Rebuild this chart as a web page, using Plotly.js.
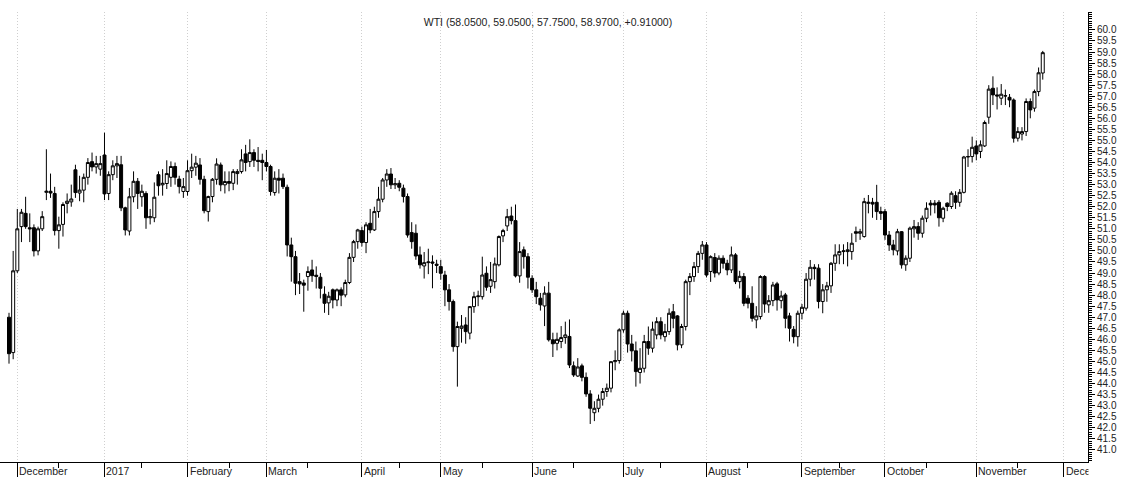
<!DOCTYPE html>
<html><head><meta charset="utf-8">
<script src="https://cdn.plot.ly/plotly-3.0.1.min.js"></script>
<style>html,body{margin:0;padding:0;background:#fff}#chart{width:1132px;height:477px}</style>
</head><body><div id="chart"></div>
<script>
const dates = [
'2016-11-29','2016-11-30',
'2016-12-01','2016-12-02','2016-12-05','2016-12-06','2016-12-07','2016-12-08','2016-12-09','2016-12-12','2016-12-13','2016-12-14','2016-12-15','2016-12-16','2016-12-19','2016-12-20','2016-12-21','2016-12-22','2016-12-23','2016-12-27','2016-12-28','2016-12-29','2016-12-30',
'2017-01-03','2017-01-04','2017-01-05','2017-01-06','2017-01-09','2017-01-10','2017-01-11','2017-01-12','2017-01-13','2017-01-17','2017-01-18','2017-01-19','2017-01-20','2017-01-23','2017-01-24','2017-01-25','2017-01-26','2017-01-27','2017-01-30','2017-01-31',
'2017-02-01','2017-02-02','2017-02-03','2017-02-06','2017-02-07','2017-02-08','2017-02-09','2017-02-10','2017-02-13','2017-02-14','2017-02-15','2017-02-16','2017-02-17','2017-02-21','2017-02-22','2017-02-23','2017-02-24','2017-02-27','2017-02-28',
'2017-03-01','2017-03-02','2017-03-03','2017-03-06','2017-03-07','2017-03-08','2017-03-09','2017-03-10','2017-03-13','2017-03-14','2017-03-15','2017-03-16','2017-03-17','2017-03-20','2017-03-21','2017-03-22','2017-03-23','2017-03-24','2017-03-27','2017-03-28','2017-03-29','2017-03-30','2017-03-31',
'2017-04-03','2017-04-04','2017-04-05','2017-04-06','2017-04-07','2017-04-10','2017-04-11','2017-04-12','2017-04-13','2017-04-17','2017-04-18','2017-04-19','2017-04-20','2017-04-21','2017-04-24','2017-04-25','2017-04-26','2017-04-27','2017-04-28',
'2017-05-01','2017-05-02','2017-05-03','2017-05-04','2017-05-05','2017-05-08','2017-05-09','2017-05-10','2017-05-11','2017-05-12','2017-05-15','2017-05-16','2017-05-17','2017-05-18','2017-05-19','2017-05-22','2017-05-23','2017-05-24','2017-05-25','2017-05-26','2017-05-30','2017-05-31',
'2017-06-01','2017-06-02','2017-06-05','2017-06-06','2017-06-07','2017-06-08','2017-06-09','2017-06-12','2017-06-13','2017-06-14','2017-06-15','2017-06-16','2017-06-19','2017-06-20','2017-06-21','2017-06-22','2017-06-23','2017-06-26','2017-06-27','2017-06-28','2017-06-29','2017-06-30',
'2017-07-03','2017-07-05','2017-07-06','2017-07-07','2017-07-10','2017-07-11','2017-07-12','2017-07-13','2017-07-14','2017-07-17','2017-07-18','2017-07-19','2017-07-20','2017-07-21','2017-07-24','2017-07-25','2017-07-26','2017-07-27','2017-07-28','2017-07-31',
'2017-08-01','2017-08-02','2017-08-03','2017-08-04','2017-08-07','2017-08-08','2017-08-09','2017-08-10','2017-08-11','2017-08-14','2017-08-15','2017-08-16','2017-08-17','2017-08-18','2017-08-21','2017-08-22','2017-08-23','2017-08-24','2017-08-25','2017-08-28','2017-08-29','2017-08-30','2017-08-31',
'2017-09-01','2017-09-05','2017-09-06','2017-09-07','2017-09-08','2017-09-11','2017-09-12','2017-09-13','2017-09-14','2017-09-15','2017-09-18','2017-09-19','2017-09-20','2017-09-21','2017-09-22','2017-09-25','2017-09-26','2017-09-27','2017-09-28','2017-09-29',
'2017-10-02','2017-10-03','2017-10-04','2017-10-05','2017-10-06','2017-10-09','2017-10-10','2017-10-11','2017-10-12','2017-10-13','2017-10-16','2017-10-17','2017-10-18','2017-10-19','2017-10-20','2017-10-23','2017-10-24','2017-10-25','2017-10-26','2017-10-27','2017-10-30','2017-10-31',
'2017-11-01','2017-11-02','2017-11-03','2017-11-06','2017-11-07','2017-11-08','2017-11-09','2017-11-10','2017-11-13','2017-11-14','2017-11-15','2017-11-16','2017-11-17','2017-11-20','2017-11-21','2017-11-22','2017-11-24'
];
const futureDates = ['2017-11-27','2017-11-28','2017-11-29','2017-11-30','2017-12-01'];

const open = [
47.0,45.4,
49.1,51.1,51.7,51.05,51.05,50.0,51.0,52.65,52.7,52.6,50.92,51.2,52.15,52.22,53.67,52.62,52.75,53.33,54.04,53.8,53.7,
54.34,52.6,53.45,53.85,53.9,51.95,50.9,52.45,53.15,52.45,52.6,51.5,51.5,53.45,52.99,53.05,53.33,53.82,53.25,52.69,
52.69,53.63,53.79,53.89,53.24,51.78,52.46,53.24,53.89,52.99,53.14,53.06,53.5,53.59,54.39,54.04,54.45,54.1,54.1,
54.0,53.82,52.64,53.29,53.29,52.88,50.27,49.74,48.61,48.55,48.84,49.14,48.9,48.81,48.04,47.65,48.24,47.78,48.24,48.01,48.57,49.71,50.42,
50.92,50.38,51.25,50.95,51.78,52.34,53.21,53.48,52.99,53.06,52.84,52.46,50.83,50.8,49.82,49.32,49.47,49.5,49.4,
49.29,48.91,48.24,47.71,45.67,46.5,46.65,46.28,47.48,47.93,47.93,48.99,48.4,48.61,49.37,50.68,51.13,51.58,51.37,48.87,50.05,49.74,
48.76,48.24,47.86,47.51,48.09,45.98,45.82,45.9,46.08,46.13,44.8,44.34,44.8,44.28,43.53,42.68,42.88,43.29,43.64,43.79,44.99,45.04,
46.43,47.18,45.79,45.48,44.5,44.69,45.9,45.6,46.2,46.8,46.12,46.35,47.25,47.06,45.75,46.58,48.61,48.84,49.29,49.89,
50.27,49.07,49.7,49.0,49.67,49.44,49.14,49.82,48.61,48.84,47.86,47.63,46.88,47.03,48.84,47.56,47.75,48.51,47.75,48.01,47.06,46.45,46.12,
47.18,47.41,48.72,49.26,49.22,47.71,48.24,48.42,49.44,49.82,49.97,49.97,49.97,50.87,50.8,50.65,52.15,52.2,52.2,51.78,
51.78,50.72,50.27,50.0,50.87,49.37,49.67,51.0,51.1,50.8,51.48,52.16,52.16,52.2,51.48,52.16,52.01,52.5,52.2,52.65,54.25,54.27,
54.75,54.5,54.75,56.05,57.36,57.06,56.91,57.01,56.95,56.83,55.1,55.29,55.4,56.76,56.46,57.21,58.05
];
const high = [
47.2,50.0,
51.9,51.9,52.45,51.7,51.2,51.1,51.8,54.6,53.5,52.9,51.55,52.2,52.6,53.0,53.9,53.4,53.5,54.2,54.45,54.3,54.3,
55.35,53.6,54.1,54.3,54.3,52.0,52.85,53.6,53.3,53.0,52.7,51.9,53.1,53.6,53.7,54.1,54.05,54.0,53.4,53.3,
54.1,54.4,54.3,54.2,53.4,52.5,53.3,54.19,54.0,53.6,53.6,53.7,53.7,54.6,54.8,55.05,54.6,54.7,54.4,
54.57,53.9,53.6,53.7,53.5,53.0,50.6,50.0,49.0,48.7,49.3,49.6,49.3,49.0,48.4,48.15,48.3,48.3,48.35,48.7,49.9,50.5,51.0,
51.1,51.3,51.9,52.0,52.9,53.3,53.7,53.75,53.3,53.2,53.0,52.6,51.3,51.2,50.2,49.95,50.1,49.8,49.6,
49.6,49.1,48.5,47.8,46.8,47.1,47.0,47.5,48.15,48.2,49.74,49.3,49.5,49.7,50.7,51.0,51.9,52.0,52.1,50.4,50.2,49.9,
48.9,48.6,48.1,48.4,48.6,46.3,46.3,46.6,46.8,46.9,45.0,45.15,44.9,44.5,43.7,43.2,43.5,43.8,44.0,45.0,45.5,46.5,
47.3,47.3,46.2,45.9,45.6,46.2,46.58,46.8,47.0,47.0,46.7,47.4,47.6,47.1,46.7,48.7,49.0,49.5,50.0,50.45,
50.4,49.8,49.9,49.8,49.8,49.6,50.2,49.9,49.1,49.0,48.0,48.4,47.5,48.9,48.9,48.0,48.6,48.6,48.2,48.1,47.2,46.6,47.3,
47.6,49.0,49.59,49.4,49.4,48.5,48.6,49.5,50.3,50.3,50.3,50.4,50.8,51.1,51.0,52.4,52.53,52.4,52.99,52.0,
51.9,50.9,50.5,51.0,50.9,49.8,51.1,51.4,51.3,51.6,52.2,52.3,52.3,52.3,52.0,52.2,52.7,52.7,52.8,54.3,54.6,55.17,
55.0,55.0,55.9,57.5,57.9,57.4,57.55,57.3,57.1,56.9,55.6,55.6,56.9,56.9,57.3,58.3,59.05
];
const low = [
44.9,45.1,
49.0,50.4,51.0,50.4,49.75,49.8,50.9,52.3,52.4,50.7,50.1,50.65,51.7,52.0,52.4,52.25,52.2,53.0,53.6,53.5,53.4,
52.3,52.3,53.2,53.3,51.8,50.7,50.7,52.2,51.9,52.0,51.0,51.2,51.3,52.5,52.5,52.8,52.9,53.0,52.6,52.4,
52.5,53.3,53.4,53.0,51.7,51.33,52.2,53.0,52.7,52.6,52.7,52.75,53.0,53.5,53.6,53.8,53.8,53.6,53.2,
53.6,52.5,52.5,52.6,52.8,49.75,48.61,48.0,48.05,47.25,48.2,48.6,48.3,47.85,47.2,47.1,47.4,47.5,47.5,47.9,48.5,49.5,50.1,
50.2,49.9,50.8,50.9,51.5,52.2,52.9,52.8,52.8,52.7,52.19,50.6,50.1,49.6,49.2,48.75,48.95,48.31,49.0,
48.7,47.5,47.3,45.44,43.86,45.85,45.8,46.0,47.2,47.5,47.8,48.2,48.1,48.3,49.3,50.4,50.9,51.2,48.8,48.56,49.2,48.3,
48.1,47.6,47.3,46.6,45.9,45.2,45.5,45.6,45.8,44.7,44.3,44.3,44.1,43.4,42.17,42.3,42.7,43.0,43.4,43.6,44.6,44.9,
46.3,45.4,45.0,43.86,44.0,44.5,45.3,45.4,46.0,46.0,45.9,46.2,46.5,45.5,45.6,46.4,48.0,48.6,49.0,49.6,
48.8,48.6,48.8,48.9,49.2,48.9,49.0,48.5,48.3,47.5,47.4,46.8,46.5,46.9,47.2,47.2,47.5,47.3,47.4,46.5,45.9,45.82,45.67,
46.9,47.3,48.4,48.7,47.4,47.18,47.7,48.1,49.1,49.4,49.4,49.3,49.6,50.4,50.5,50.6,51.7,51.5,51.4,51.4,
50.5,50.0,49.8,49.8,49.2,49.1,49.5,50.6,50.5,50.6,51.3,51.6,51.7,51.1,51.3,51.8,51.9,51.9,52.0,52.6,53.8,54.0,
54.1,54.2,54.7,55.75,56.6,56.4,56.6,56.6,56.5,54.9,54.95,55.0,55.2,56.0,56.3,57.0,57.75
];
const close = [
45.35,49.1,
51.0,51.75,51.1,51.0,50.0,51.0,51.55,52.7,52.62,50.92,51.18,52.1,52.25,52.35,52.64,52.75,53.33,54.0,53.8,53.95,53.95,
52.58,53.45,53.85,53.95,51.95,50.95,52.45,53.15,52.6,52.7,51.5,51.55,52.43,52.95,53.06,53.5,53.82,53.33,52.91,52.91,
53.63,53.79,53.97,53.24,51.82,52.46,53.24,53.93,52.99,53.14,53.06,53.59,53.59,54.12,54.0,54.45,54.1,54.05,54.0,
53.82,52.69,53.29,53.2,52.91,50.27,49.74,48.54,48.51,48.45,49.07,48.88,48.85,48.31,47.63,47.95,47.78,48.24,48.0,48.57,49.71,50.42,50.95,
50.38,51.18,50.95,51.78,52.34,53.21,53.48,52.99,53.04,52.88,52.46,50.72,50.42,49.77,49.37,49.47,49.5,49.45,49.35,
48.99,48.24,47.71,45.67,46.58,46.6,46.35,47.48,47.93,47.96,48.91,48.36,48.7,49.41,50.65,50.92,51.55,51.37,48.87,49.97,49.74,48.81,
48.24,47.93,47.56,48.09,45.98,45.8,46.0,46.08,46.2,44.84,44.39,44.75,44.28,43.53,42.88,42.88,43.29,43.64,43.79,44.99,45.04,46.43,
47.18,45.79,45.48,44.54,44.69,45.9,45.6,46.46,46.8,46.2,46.35,47.18,46.95,45.75,46.58,48.61,48.84,49.29,49.89,50.27,
48.91,49.74,49.0,49.67,49.44,49.14,49.82,48.61,48.85,47.63,47.63,46.95,47.06,48.84,47.6,47.75,48.46,47.78,47.96,46.95,46.5,46.12,47.18,
47.45,48.72,49.26,49.2,47.71,48.24,48.42,49.44,49.82,49.97,50.0,50.05,50.35,50.8,50.87,52.23,52.2,52.12,51.78,51.7,
50.72,50.27,50.05,50.87,49.37,49.67,51.03,51.1,50.8,51.48,51.93,52.08,52.08,51.5,51.93,52.01,52.61,52.2,52.65,54.25,54.27,54.69,
54.39,54.8,55.81,57.32,57.06,57.01,57.09,57.02,56.83,55.1,55.4,55.4,56.76,56.38,57.21,58.06,58.97
];
const monthLabels = ['December','2017','February','March','April','May','June','July','August','September','October','November','December'];
const titleText = 'WTI (58.0500, 59.0500, 57.7500, 58.9700, +0.91000)';
const yTickValues = [41.0,41.5,42.0,42.5,43.0,43.5,44.0,44.5,45.0,45.5,46.0,46.5,47.0,47.5,48.0,48.5,49.0,49.5,50.0,50.5,51.0,51.5,52.0,52.5,53.0,53.5,54.0,54.5,55.0,55.5,56.0,56.5,57.0,57.5,58.0,58.5,59.0,59.5,60.0];

// positions: one slot per trading day
const idx = dates.map((d, i) => i);
const allDates = dates.concat(futureDates);
const monthStarts = [];
const midTicks = [];
for (let i = 1; i < allDates.length; i++) {
  if (allDates[i].slice(0, 7) !== allDates[i - 1].slice(0, 7)) monthStarts.push(i);
}
monthStarts.forEach(ms => {
  const ym = allDates[ms].slice(0, 7);
  for (let j = ms; j < allDates.length && allDates[j].slice(0, 7) === ym; j++) {
    if (+allDates[j].slice(8, 10) >= 15) { midTicks.push(j); break; }
  }
});

const W = 1132, H = 477;
const margin = {l: 0, r: 44, t: 12, b: 15};
const xRange = [-2.17, 259.9];
const pxPerSlot = (W - margin.l - margin.r) / (xRange[1] - xRange[0]);
const font = 'Liberation Sans, Arial, sans-serif';

const annotations = monthStarts.map((ms, k) => {
  const a = {
    x: ms, xref: 'x', y: 0, yref: 'paper', yshift: -9, xshift: 1,
    xanchor: 'left', yanchor: 'middle', align: 'left', showarrow: false,
    text: monthLabels[k], font: {family: font, size: 10.5, color: '#222'}, borderpad: 0
  };
  const room = (xRange[1] - ms) * pxPerSlot - 2;
  if (room < 60) a.width = Math.max(room, 1);
  return a;
});

const trace = {
  type: 'candlestick', x: idx, open: open, high: high, low: low, close: close,
  increasing: {line: {color: '#000', width: 1}, fillcolor: '#ffffff'},
  decreasing: {line: {color: '#000', width: 1}, fillcolor: '#000000'},
  whiskerwidth: 0, hoverinfo: 'skip', showlegend: false
};

const layout = {
  width: W, height: H, margin: margin,
  paper_bgcolor: '#fff', plot_bgcolor: '#fff',
  showlegend: false,
  boxgap: 0.2, boxgroupgap: 0.1,
  title: {text: titleText, xref: 'container', x: 548 / W, yref: 'container', y: 1 - 22 / H,
          xanchor: 'center', yanchor: 'middle', font: {family: font, size: 10.5, color: '#222'}},
  xaxis: {
    range: xRange, tickmode: 'array', tickvals: monthStarts, showticklabels: false,
    ticks: 'outside', ticklen: 15, tickwidth: 1, tickcolor: '#000',
    showgrid: true, gridcolor: '#cfcfcf', griddash: '1px,2px', gridwidth: 1,
    showline: true, linecolor: '#000', linewidth: 1, zeroline: false, fixedrange: true,
    rangeslider: {visible: false},
    minor: {tickmode: 'array', tickvals: midTicks, ticks: 'outside', ticklen: 5, tickcolor: '#000', tickwidth: 1, showgrid: false}
  },
  yaxis: {
    side: 'right', range: [40.45, 60.81], tickmode: 'array', tickvals: yTickValues,
    ticktext: yTickValues.map(v => v.toFixed(1)),
    ticks: 'outside', ticklen: 6, tickwidth: 1, tickcolor: '#000',
    showline: true, linecolor: '#000', linewidth: 1, showgrid: false, zeroline: false, fixedrange: true,
    tickfont: {family: font, size: 10, color: '#222'},
    minor: {tickmode: 'linear', tick0: 41, dtick: 0.1, ticks: 'outside', ticklen: 3, tickcolor: '#000', tickwidth: 1, showgrid: false}
  },
  annotations: annotations
};

Plotly.newPlot('chart', [trace], layout, {staticPlot: true, displayModeBar: false});
</script>
</body></html>
